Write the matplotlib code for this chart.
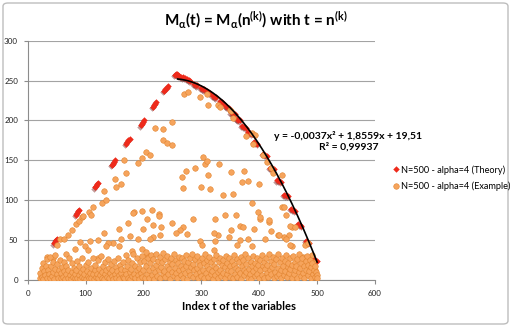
import numpy as np
import matplotlib
matplotlib.use("Agg")
import matplotlib.pyplot as plt
import matplotlib.transforms as mtransforms
from matplotlib.patches import FancyBboxPatch
from matplotlib.lines import Line2D

plt.rcParams['font.family'] = ['Lato', 'DejaVu Sans']
plt.rcParams['mathtext.fontset'] = 'custom'
plt.rcParams['mathtext.rm'] = 'Lato'
plt.rcParams['mathtext.bf'] = 'Lato:bold'
plt.rcParams['mathtext.default'] = 'bf'

# Theory series (red diamonds)
theory_pts = [
    (45, 46), (47, 48), (49, 50), (51, 52),
    (83, 82), (85, 84), (87, 86), (89, 88),
    (116, 116), (118, 118), (120, 120), (122, 122),
    (145, 144), (147, 146), (149, 148), (151, 150),
    (170, 171), (172, 173), (174, 175), (176, 177),
    (195, 194), (197, 196), (199, 198), (201, 200),
    (216, 217), (218, 219), (220, 221), (222, 223),
    (236, 237), (238, 239), (240, 241), (242, 243),
    (254, 257), (256, 258), (258, 258), (260, 257), (262, 256),
    (265, 255), (268, 254), (271, 253),
    (275, 252), (278, 251), (281, 250),
    (287, 246), (290, 245), (293, 244),
    (299, 241), (302, 240), (305, 239),
    (309, 237), (312, 236), (315, 235),
    (320, 231), (323, 230), (326, 229),
    (332, 224), (335, 223), (338, 222),
    (342, 218), (345, 217), (348, 216),
    (352, 210), (355, 209), (358, 208),
    (361, 202), (364, 201), (367, 200),
    (371, 193), (374, 192), (377, 191),
    (381, 185), (384, 184), (387, 183),
    (391, 173), (394, 172), (397, 171),
    (407, 158), (410, 157), (413, 156),
    (419, 141), (422, 140), (425, 139),
    (431, 125), (434, 124), (437, 123),
    (443, 107), (446, 106), (449, 105),
    (455, 89), (458, 88), (461, 87),
    (467, 70), (470, 69), (473, 68),
    (480, 49), (483, 48), (486, 47),
    (494, 26), (497, 25), (500, 24),
]

# Example series (orange circles): scattered upper points
example_upper = [
    (50, 44), (56, 51), (62, 52), (70, 56), (76, 63), (83, 70), (89, 74), (93, 79),
    (96, 80), (106, 85), (110, 82), (113, 91), (128, 96), (131, 111), (135, 100),
    (151, 126), (153, 117), (161, 120), (167, 151), (170, 134), (190, 147), (197, 153),
    (204, 161), (211, 157), (233, 175), (240, 172), (250, 169), (233, 189), (220, 190),
    (250, 198), (270, 233), (277, 236), (298, 230), (309, 233), (312, 219), (329, 219),
    (332, 217), (349, 213), (354, 203), (377, 180), (387, 184), (393, 182), (389, 170),
    (352, 212), (302, 154), (306, 146), (309, 149), (330, 145), (273, 137), (266, 129),
    (289, 140), (312, 132), (352, 136), (374, 137), (371, 123), (381, 124), (399, 120),
    (269, 115), (299, 117), (315, 114), (338, 106), (355, 108), (387, 96), (398, 85),
    (401, 77), (417, 73), (227, 83), (249, 71), (268, 66), (263, 63), (286, 76),
    (324, 77), (341, 82), (360, 81), (366, 68), (372, 67), (351, 63), (348, 54),
    (329, 56), (321, 59), (391, 64), (410, 51), (432, 56), (442, 54), (452, 56),
    (456, 42), (298, 49), (301, 44), (324, 49), (321, 38), (362, 44), (381, 51),
    (387, 42), (367, 50), (275, 58), (257, 59), (231, 66), (217, 54), (229, 56),
    (184, 85), (197, 87), (206, 77), (214, 88), (226, 80), (182, 84), (174, 71),
    (158, 64), (132, 59), (200, 64), (217, 69), (211, 52), (190, 51), (162, 52),
    (176, 55), (147, 47), (139, 47), (122, 50), (108, 49), (90, 48), (82, 39),
    (67, 33), (44, 28), (33, 29), (99, 42), (105, 38), (122, 28), (136, 42),
    (157, 42), (180, 36), (197, 39), (206, 31), (407, 157), (413, 148), (421, 140),
    (424, 134), (439, 132), (440, 92), (447, 82), (417, 75), (401, 79), (456, 67),
    (442, 92), (453, 68), (462, 67), (435, 56), (421, 61), (446, 52), (453, 44),
    (491, 31), (479, 44), (485, 46), (476, 29), (493, 23), (496, 12),
]

# Example series: dense low band
example_band = [
    (21, 2), (22, 9), (24, 15), (25, 4), (26, 21), (27, 1), (29, 11), (30, 6), (31, 18), (33, 3),
    (34, 26), (35, 13), (36, 8), (38, 29), (39, 2), (40, 17), (42, 5), (43, 23), (44, 10), (46, 1),
    (47, 14), (48, 31), (50, 7), (51, 20), (52, 3), (54, 12), (55, 25), (57, 2), (58, 9), (59, 16),
    (61, 4), (62, 22), (63, 11), (65, 1), (66, 7), (67, 18), (69, 3), (70, 13), (71, 27), (73, 6),
    (74, 1), (76, 10), (77, 21), (78, 4), (80, 15), (81, 2), (82, 8), (84, 12), (85, 24), (86, 3),
    (88, 6), (89, 17), (90, 1), (92, 10), (93, 28), (94, 4), (96, 14), (97, 2), (98, 7), (100, 19),
    (101, 1), (102, 11), (104, 5), (105, 23), (106, 2), (108, 9), (109, 15), (110, 3), (112, 27), (113, 7),
    (114, 1), (116, 12), (117, 19), (118, 4), (120, 8), (121, 25), (122, 2), (124, 14), (125, 6), (126, 30),
    (128, 3), (129, 10), (130, 18), (132, 1), (133, 22), (134, 8), (136, 12), (137, 4), (138, 26), (140, 15),
    (141, 2), (142, 9), (144, 20), (145, 5), (146, 13), (148, 1), (149, 24), (150, 7), (152, 16), (153, 3),
    (154, 11), (156, 28), (157, 6), (158, 1), (160, 19), (161, 9), (162, 14), (164, 4), (165, 23), (166, 2),
    (168, 12), (169, 31), (170, 7), (172, 17), (173, 3), (174, 25), (176, 10), (177, 1), (178, 14), (180, 21),
    (181, 5), (182, 33), (184, 8), (185, 18), (186, 2), (188, 12), (189, 27), (190, 6), (192, 15), (193, 1),
    (194, 22), (196, 9), (197, 30), (198, 4), (200, 13), (201, 24), (202, 2), (204, 17), (205, 35), (206, 8),
    (208, 27), (209, 12), (210, 3), (212, 21), (213, 31), (214, 6), (216, 15), (217, 26), (218, 1), (220, 10),
    (221, 33), (222, 19), (224, 5), (225, 24), (226, 13), (228, 29), (229, 2), (230, 16), (232, 22), (233, 8),
    (234, 34), (236, 11), (237, 26), (238, 4), (240, 18), (241, 30), (242, 7), (244, 14), (245, 23), (246, 1),
    (248, 28), (249, 10), (250, 20), (252, 5), (253, 32), (254, 15), (256, 25), (257, 9), (258, 2), (260, 21),
    (261, 29), (262, 12), (264, 6), (265, 18), (266, 27), (268, 3), (269, 14), (270, 24), (272, 9), (273, 31),
    (274, 17), (276, 1), (277, 22), (278, 11), (280, 28), (281, 6), (282, 16), (284, 33), (285, 4), (286, 20),
    (288, 12), (289, 26), (290, 8), (292, 30), (293, 15), (294, 3), (296, 23), (297, 10), (298, 19), (300, 5),
    (301, 27), (302, 13), (304, 2), (305, 21), (306, 32), (308, 9), (309, 17), (310, 25), (312, 4), (313, 14),
    (314, 29), (316, 7), (317, 22), (318, 11), (320, 1), (321, 18), (322, 26), (324, 6), (325, 15), (326, 31),
    (328, 10), (329, 3), (330, 23), (332, 13), (333, 28), (334, 5), (336, 19), (337, 9), (338, 25), (340, 2),
    (341, 16), (342, 30), (344, 8), (345, 21), (346, 12), (348, 27), (349, 4), (350, 17), (352, 11), (353, 24),
    (354, 2), (356, 19), (357, 31), (358, 7), (360, 15), (361, 26), (362, 4), (364, 12), (365, 22), (366, 9),
    (368, 29), (369, 1), (370, 17), (372, 25), (373, 6), (374, 13), (376, 33), (377, 10), (378, 20), (380, 3),
    (381, 27), (382, 14), (384, 8), (385, 23), (386, 1), (388, 18), (389, 30), (390, 11), (392, 5), (393, 21),
    (394, 15), (396, 28), (397, 7), (398, 19), (400, 3), (401, 25), (402, 12), (404, 31), (405, 6), (406, 17),
    (408, 22), (409, 2), (410, 14), (412, 27), (413, 9), (414, 19), (416, 4), (417, 33), (418, 12), (420, 24),
    (421, 7), (422, 16), (424, 29), (425, 2), (426, 20), (428, 10), (429, 26), (430, 5), (432, 15), (433, 32),
    (434, 8), (436, 22), (437, 13), (438, 3), (440, 28), (441, 18), (442, 6), (444, 24), (445, 11), (446, 31),
    (448, 4), (449, 16), (450, 21), (452, 9), (453, 27), (454, 14), (456, 2), (457, 19), (458, 30), (460, 7),
    (461, 23), (462, 12), (464, 17), (465, 3), (466, 26), (468, 10), (469, 33), (470, 15), (472, 5), (473, 21),
    (474, 28), (476, 9), (477, 17), (478, 2), (480, 24), (481, 13), (482, 30), (484, 6), (485, 19), (486, 11),
    (488, 25), (489, 3), (490, 16), (492, 21), (493, 8), (494, 13), (496, 4), (497, 18), (498, 10), (499, 6),
    (500, 2),
]

# Polynomial trendline shown on the chart
trend_coef = [-0.0037, 1.8559, 19.51]
trend_range = (259, 500)

x_ticks = [0, 100, 200, 300, 400, 500, 600]
y_ticks = [0, 50, 100, 150, 200, 250, 300]

theory_t, theory_m = np.array(theory_pts).T
ex_t, ex_m = np.array(example_upper + example_band).T

RED = '#EE2A1B'
ORANGE = '#F6A45C'
ORANGE_EDGE = '#E2842F'
GRID = '#A3A3A3'

fig = plt.figure(figsize=(5.11, 3.27), dpi=100)
ax = fig.add_axes([27.7 / 511, 1 - 280 / 327, (375 - 27.7) / 511, (280 - 40.7) / 327])

# red diamonds with a soft drop shadow
shadow = mtransforms.offset_copy(ax.transData, fig=fig, x=-0.7, y=-0.9, units='points')
ax.plot(theory_t, theory_m, 'D', ms=3.3, color='#7A1E1A', alpha=0.45, mew=0,
        transform=shadow, zorder=2)
ax.plot(theory_t, theory_m, 'D', ms=3.3, color=RED, mew=0, zorder=3)

ax.plot(ex_t, ex_m, 'o', ms=4.0, mfc=ORANGE, mec=ORANGE_EDGE, mew=0.4, zorder=4)

trend_t = np.linspace(trend_range[0], trend_range[1], 200)
ax.plot(trend_t, np.polyval(trend_coef, trend_t), color='black', lw=1.2, zorder=5)

ax.set_xlim(0, 600)
ax.set_ylim(0, 300)
ax.set_xticks(x_ticks)
ax.set_yticks(y_ticks)
ax.tick_params(labelsize=5.8, length=3, width=0.8, color='#8C8C8C', pad=4, labelcolor='#222222')
ax.yaxis.grid(True, color=GRID, lw=0.8)
ax.set_axisbelow(True)
for side in ['top', 'right']:
    ax.spines[side].set_visible(False)
for side in ['left', 'bottom']:
    ax.spines[side].set_color('#8C8C8C')
    ax.spines[side].set_linewidth(0.8)

# title and axis label
fig.text(0.5, 1 - 20 / 327, r'M$_\alpha$(t) = M$_\alpha$(n$^{(k)}$) with t = n$^{(k)}$',
         ha='center', va='center', fontsize=11, fontweight='bold')
fig.text(239 / 511, 1 - 307 / 327, 'Index t of the variables', ha='center', va='center',
         fontsize=8, fontweight='bold')

# trendline equation
fig.text(348.5 / 511, 1 - 141.5 / 327, 'y = -0,0037x² + 1,8559x + 19,51\nR² = 0,99937',
         ha='center', va='center', fontsize=7.5, fontweight='bold', linespacing=1.25)

# legend
handles = [
    Line2D([], [], marker='D', ls='', ms=3.3, color=RED, mew=0),
    Line2D([], [], marker='o', ls='', ms=4.0, mfc=ORANGE, mec=ORANGE_EDGE, mew=0.4),
]
fig.legend(handles, ['N=500 - alpha=4 (Theory)', 'N=500 - alpha=4 (Example)'],
           loc='center left', bbox_to_anchor=(394 / 511, 1 - 178 / 327), frameon=False,
           fontsize=6.6, handlelength=0.5, handletextpad=0.3, labelspacing=0.75,
           borderpad=0, borderaxespad=0)

# chart area border
fig.patches.append(FancyBboxPatch((3 / 511, 3 / 327), 505 / 511, 321 / 327,
                                  boxstyle='round,pad=0,rounding_size=0.01',
                                  transform=fig.transFigure, fill=False,
                                  edgecolor='#BDBDBD', lw=1.0))

fig.savefig('out.png', dpi=100)
